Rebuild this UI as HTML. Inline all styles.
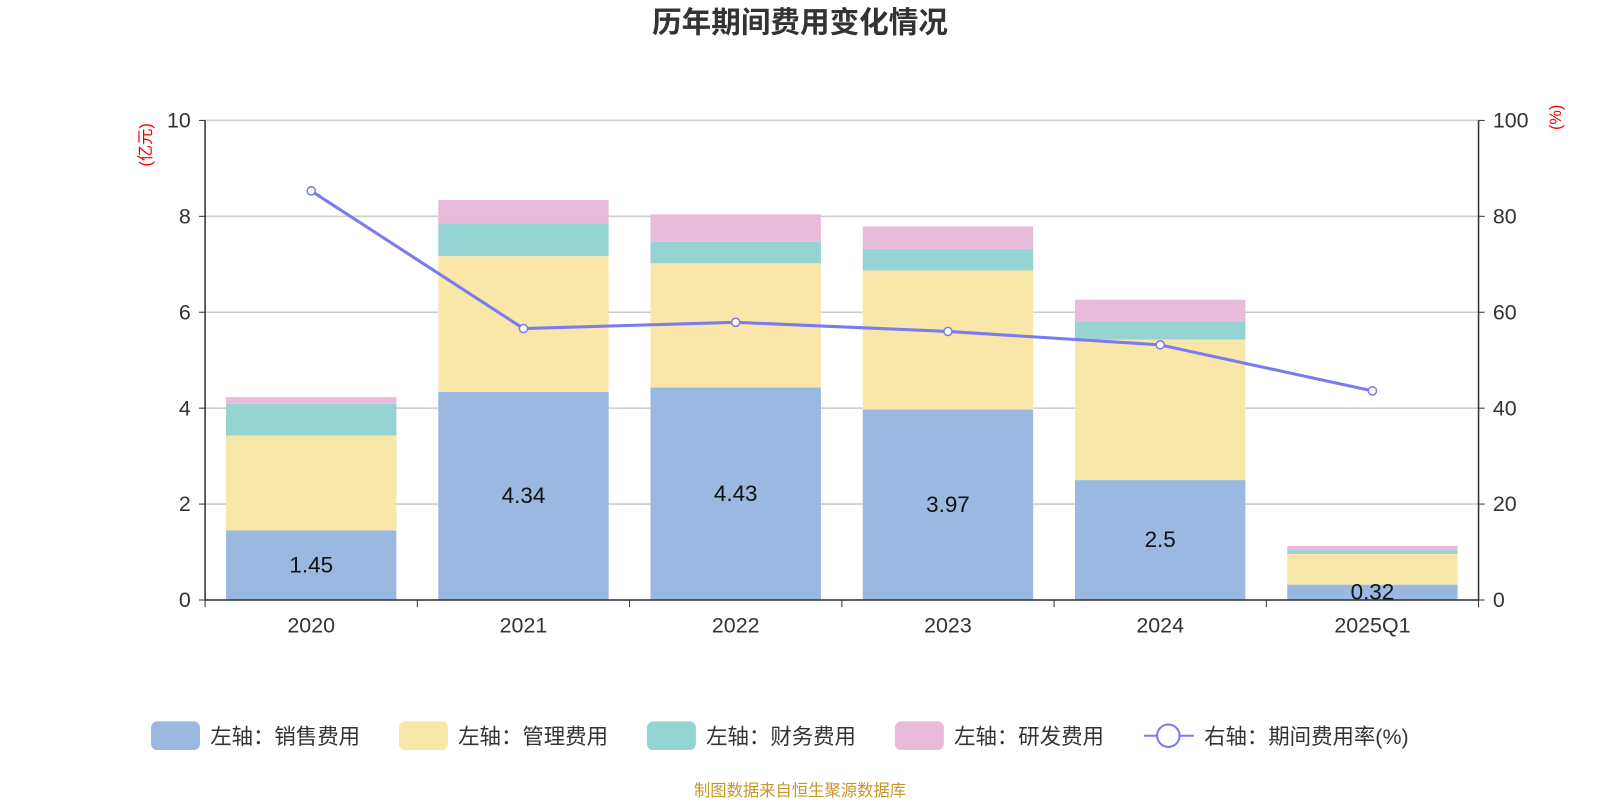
<!DOCTYPE html>
<html><head><meta charset="utf-8"><style>
body{margin:0;background:#fff;width:1600px;height:800px;overflow:hidden;font-family:"Liberation Sans","Noto Sans CJK SC",sans-serif;}
</style></head><body>
<svg id="c" width="1600" height="800" xmlns="http://www.w3.org/2000/svg">
<g transform="scale(1.0204)">
<text x="784" y="32" text-anchor="middle" font-size="29" font-weight="bold" fill="#333" font-family="Liberation Sans, Noto Sans CJK SC, sans-serif">历年期间费用变化情况</text>
<text transform="translate(148,142) rotate(-90)" text-anchor="middle" font-size="16" fill="#e00" font-family="Liberation Sans, Noto Sans CJK SC, sans-serif">(亿元)</text>
<text transform="translate(1530,115) rotate(-90)" text-anchor="middle" font-size="16" fill="#e00" font-family="Liberation Sans, Noto Sans CJK SC, sans-serif">(%)</text>
<g id="grid"></g><g id="bars"></g><g id="axes"></g><g id="line"></g><g id="legend"></g>
<text x="784" y="780" text-anchor="middle" font-size="16" fill="#c8952a" font-family="Liberation Sans, Noto Sans CJK SC, sans-serif">制图数据来自恒生聚源数据库</text>
</g>
</svg>
<script>
const categories=["2020","2021","2022","2023","2024","2025Q1"];
const sales=[1.45,4.34,4.43,3.97,2.5,0.32];
const mgmt=[1.98,2.83,2.59,2.90,2.93,0.64];
const fin=[0.66,0.68,0.45,0.45,0.38,0.08];
const rd=[0.14,0.49,0.57,0.47,0.45,0.09];
const rate=[85.3,56.6,57.9,56.0,53.2,43.6];
const leftTicks=[0,2,4,6,8,10];
const rightTicks=[0,20,40,60,80,100];
const NS="http://www.w3.org/2000/svg";
const X0=201,X1=1449,Y0=588,Y1=118;
const bw=(X1-X0)/categories.length;
const yL=v=>Y0-(v/10)*(Y0-Y1);
const yR=v=>Y0-(v/100)*(Y0-Y1);
const xc=i=>X0+bw*(i+0.5);
function mk(t,a,p){const e=document.createElementNS(NS,t);for(const k in a)e.setAttribute(k,a[k]);p.appendChild(e);return e;}
const F="Liberation Sans, Noto Sans CJK SC, sans-serif";
const grid=document.getElementById('grid'),axes=document.getElementById('axes');
leftTicks.forEach((v,i)=>{
  const g=mk('line',{x1:X0,x2:X1,y1:yL(v),y2:yL(v),stroke:'#ccc','stroke-width':1.5},grid);
  
  
  const t=mk('text',{x:X0-14,y:yL(v)+7,'text-anchor':'end','font-size':21,fill:'#333','font-family':F},axes);t.textContent=v;
  
  
  mk('line',{x1:X0-6,x2:X0,y1:yL(v),y2:yL(v),stroke:'#333'},axes);
  const r=mk('text',{x:X1+14,y:yR(rightTicks[i])+7,'font-size':21,fill:'#333','font-family':F},axes);r.textContent=rightTicks[i];
  
  
  mk('line',{x1:X1,x2:X1+6,y1:yR(rightTicks[i]),y2:yR(rightTicks[i]),stroke:'#333'},axes);
});
mk('line',{x1:X0,x2:X0,y1:Y1,y2:Y0,stroke:'#333','stroke-width':1.5},axes);
mk('line',{x1:X1,x2:X1,y1:Y1,y2:Y0,stroke:'#333','stroke-width':1.5},axes);
mk('line',{x1:X0,x2:X1,y1:Y0,y2:Y0,stroke:'#333','stroke-width':1.5},axes);
for(let i=0;i<=categories.length;i++)mk('line',{x1:X0+bw*i,x2:X0+bw*i,y1:Y0,y2:Y0+7,stroke:'#333'},axes);
const bars=document.getElementById('bars');
const series=[sales,mgmt,fin,rd],cols=['#9bb8e0','#f8e7a8','#96d4d4','#e8bbd9'],names=['sales','mgmt','finance','rd'];
categories.forEach((c,i)=>{
  const t=mk('text',{x:xc(i),y:Y0+32,'text-anchor':'middle','font-size':21,fill:'#333','font-family':F},axes);t.textContent=c;
  
  
  let base=0;
  series.forEach((s,k)=>{
    const r=mk('rect',{x:xc(i)-83.5,width:167,y:yL(base+s[i]),height:yL(base)-yL(base+s[i]),fill:cols[k]},bars);
    
    
    base+=s[i];
  });
  const l=mk('text',{x:xc(i),y:(yL(sales[i])+Y0)/2+7,'text-anchor':'middle','font-size':22,fill:'#111','font-family':F},bars);l.textContent=sales[i];
  
  
});
const lg=document.getElementById('line');
const p=mk('polyline',{points:rate.map((v,i)=>xc(i)+','+yR(v)).join(' '),fill:'none',stroke:'#7b7bef','stroke-width':3},lg);


rate.forEach((v,i)=>{const c=mk('circle',{cx:xc(i),cy:yR(v),r:4,fill:'#fff',stroke:'#7b7bef','stroke-width':1.5},lg);

});
const leg=document.getElementById('legend');
const items=[['左轴：销售费用',148],['左轴：管理费用',391],['左轴：财务费用',634],['左轴：研发费用',877]];
items.forEach((it,k)=>{
  const r=mk('rect',{x:it[1],y:707,width:48,height:28,rx:6,fill:cols[k]},leg);
  
  
  const t=mk('text',{x:it[1]+58,y:729,'font-size':21,fill:'#333','font-family':F},leg);t.textContent=it[0];
  
  
});
mk('line',{x1:1121,x2:1170,y1:721,y2:721,stroke:'#7b7bef','stroke-width':2},leg);
const lc=mk('circle',{cx:1145,cy:721,r:11,fill:'#fff',stroke:'#7b7bef','stroke-width':2},leg);


const lt=mk('text',{x:1180,y:729,'font-size':21,fill:'#333','font-family':F},leg);lt.textContent='右轴：期间费用率(%)';


</script>
</body></html>
